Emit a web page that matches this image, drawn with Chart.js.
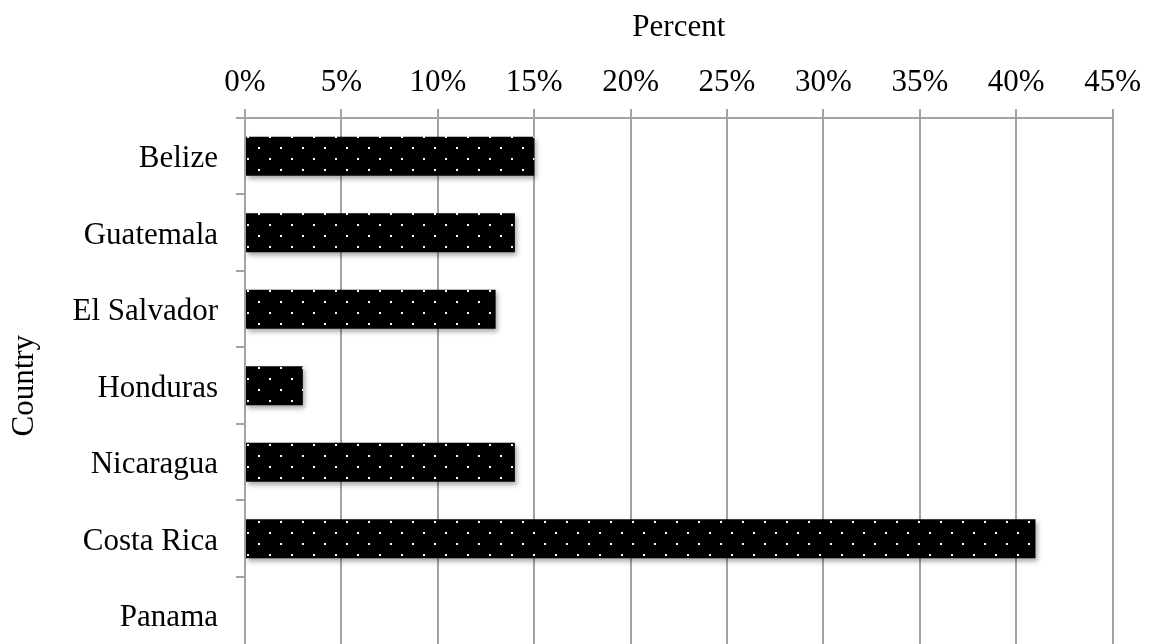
<!DOCTYPE html>
<html>
<head>
<meta charset="utf-8">
<script src="https://cdn.jsdelivr.net/npm/chart.js@4"></script>
<style>
  html, body { margin: 0; padding: 0; background: #fff; overflow: hidden; }
  #wrap { width: 1149px; height: 690px; }
</style>
</head>
<body>
<div id="wrap"><canvas id="c" width="1149" height="690"></canvas></div>
<script>
// data
var countries = ["Belize", "Guatemala", "El Salvador", "Honduras", "Nicaragua", "Costa Rica", "Panama"]
var percents = [15, 14, 13, 3, 14, 41, 0]
var xTicks = [0, 5, 10, 15, 20, 25, 30, 35, 40, 45]

var grid_color = "#a3a3a3"
var font_family = "'Liberation Serif', 'Times New Roman', serif"
var font_size = 31

// black fill with staggered white dots
function dotPattern(){
    var p = document.createElement("canvas")
    p.width = 22
    p.height = 22
    var g = p.getContext("2d")
    g.fillStyle = "#000"
    g.fillRect(0, 0, 22, 22)
    g.fillStyle = "#fff"
    g.fillRect(5, 4, 2, 2)
    g.fillRect(16, 15, 2, 2)
    return g.createPattern(p, "repeat")
}

const shadow = {
    id: "barShadow",
    beforeDatasetsDraw: (chart) => {
        const {ctx} = chart
        ctx.save()
        ctx.shadowColor = "rgba(0,0,0,0.35)"
        ctx.shadowBlur = 5
        ctx.shadowOffsetX = 2
        ctx.shadowOffsetY = 3
    },
    afterDatasetsDraw: (chart) => {
        chart.ctx.restore()
    }
}

var ctx = document.getElementById("c").getContext("2d")
var chart = new Chart(ctx, {
    type: "bar",
    data: {
        labels: countries,
        datasets: [{
            data: percents,
            backgroundColor: dotPattern(),
            borderWidth: 0,
            barPercentage: 0.51,
            categoryPercentage: 1
        }]
    },
    options: {
        indexAxis: "y",
        responsive: false,
        animation: false,
        layout: { padding: { top: 0, left: 0, right: 29, bottom: 5 } },
        plugins: {
            legend: { display: false },
            tooltip: { enabled: false }
        },
        scales: {
            x: {
                position: "top",
                min: 0,
                max: 45,
                afterBuildTicks: (scale) => {
                    scale.ticks = xTicks.map(v => ({ value: v }))
                },
                afterFit: (scale) => { scale.height = 118 },
                ticks: {
                    color: "#000",
                    padding: 8,
                    maxRotation: 0,
                    font: { family: font_family, size: font_size },
                    callback: (v) => v + "%"
                },
                grid: {
                    color: grid_color,
                    lineWidth: 2,
                    tickLength: 9
                },
                border: { color: grid_color, width: 2 },
                title: {
                    display: true,
                    text: "Percent",
                    color: "#000",
                    padding: { top: 9, bottom: 0 },
                    font: { family: font_family, size: font_size }
                }
            },
            y: {
                afterFit: (scale) => { scale.width = 245 },
                ticks: {
                    color: "#000",
                    padding: 18,
                    labelOffset: 3,
                    font: { family: font_family, size: font_size }
                },
                grid: {
                    offset: true,
                    drawOnChartArea: false,
                    color: grid_color,
                    lineWidth: 2,
                    tickLength: 9
                },
                border: { color: grid_color, width: 2 },
                title: {
                    display: true,
                    text: "Country",
                    color: "#000",
                    padding: { top: 6, bottom: 0 },
                    font: { family: font_family, size: font_size }
                }
            }
        }
    },
    plugins: [shadow]
})
</script>
</body>
</html>
